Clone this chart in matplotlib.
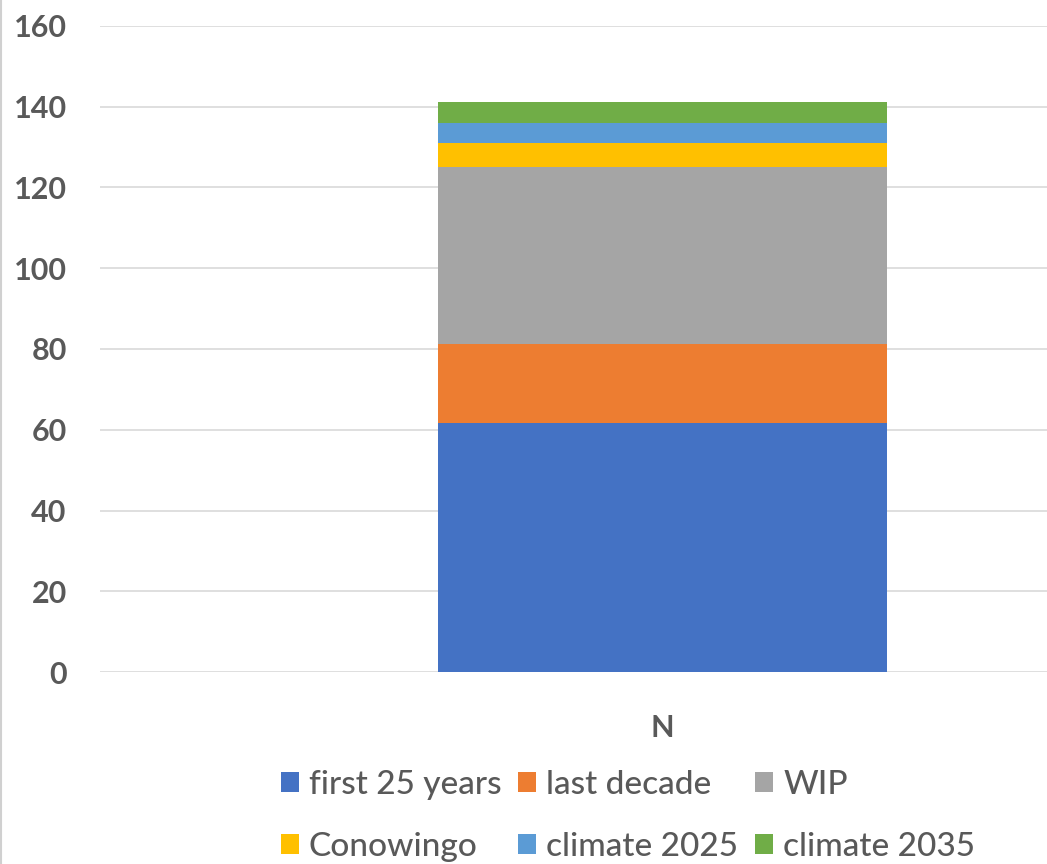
import matplotlib
matplotlib.use("Agg")
import matplotlib.pyplot as plt
from matplotlib.lines import Line2D

categories = ["N"]
series_names = ["first 25 years", "last decade", "WIP",
                "Conowingo", "climate 2025", "climate 2035"]
series_values = [61.7, 19.5, 43.8, 6.0, 4.9, 5.35]
series_colors = ["#4472C4", "#ED7D31", "#A5A5A5", "#FFC000", "#5B9BD5", "#70AD47"]
y_ticks = [0, 20, 40, 60, 80, 100, 120, 140, 160]

text_color = "#595959"
grid_color = "#D9D9D9"

W, H = 1047, 864
fig = plt.figure(figsize=(W / 100, H / 100), dpi=100)
fig.patch.set_facecolor("white")

# plot area: left edge at 100 px, y=0 at 672 px, y=160 at 26 px
ax = fig.add_axes([100 / W, (H - 672) / H, 1 - 100 / W, (672 - 26) / H])
ax.set_ylim(0, 160)
ax.set_xlim(-0.5, -0.5 + 947 / 1125)

bottom = 0
handles = []
for name, val, col in zip(series_names, series_values, series_colors):
    b = ax.bar(0, val, width=449 / 1125, bottom=bottom, color=col,
               edgecolor="none", label=name, zorder=3)
    handles.append(b)
    bottom += val

ax.set_yticks(y_ticks)
ax.set_yticklabels([str(t) for t in y_ticks])
ax.set_xticks([0])
ax.set_xticklabels(categories)
ax.tick_params(axis="y", length=0, pad=24, labelsize=22, labelcolor=text_color)
ax.tick_params(axis="x", length=0, pad=30, labelsize=22, labelcolor=text_color)
for lab in ax.get_yticklabels() + ax.get_xticklabels():
    lab.set_fontfamily("Lato")
    lab.set_fontweight("bold")

ax.grid(axis="y", color=grid_color, linewidth=1.2, zorder=0)
for s in ax.spines.values():
    s.set_visible(False)

# thin frame line at the left border of the chart
fig.add_artist(Line2D([1 / W, 1 / W], [0, 1], color="#D0D0D0", linewidth=1.5,
                      transform=fig.transFigure))

# legend entries laid out row by row (matplotlib fills columns first)
ncol = 3
nrow = (len(handles) + ncol - 1) // ncol
order = [r * ncol + c for c in range(ncol) for r in range(nrow)]
leg = fig.legend(handles=[handles[i] for i in order],
                 labels=[series_names[i] for i in order], ncol=ncol,
                 loc="center", bbox_to_anchor=(628 / W, (H - 816) / H),
                 frameon=False, handlelength=0.55, handleheight=0.55,
                 handletextpad=0.3, columnspacing=0.5, labelspacing=0.95,
                 prop={"family": "Lato", "size": 24, "weight": "medium"})
for t in leg.get_texts():
    t.set_color(text_color)

fig.savefig("out.png", dpi=100, facecolor="white")
